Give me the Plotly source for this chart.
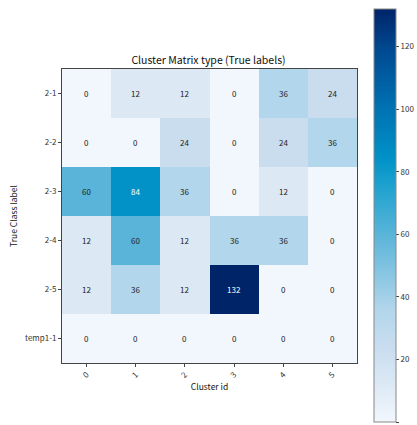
import plotly.graph_objects as go

clusters = ["0", "1", "2", "3", "4", "5"]
classes = ["2-1", "2-2", "2-3", "2-4", "2-5", "temp1-1"]
counts = [
    [0, 12, 12, 0, 36, 24],
    [0, 0, 24, 0, 24, 36],
    [60, 84, 36, 0, 12, 0],
    [12, 60, 12, 36, 36, 0],
    [12, 36, 12, 132, 0, 0],
    [0, 0, 0, 0, 0, 0],
]

FONT = "Noto Sans CJK JP, DejaVu Sans, sans-serif"
zmax = max(max(r) for r in counts)

colorscale = [
    [0.0, "#f2f7fd"],
    [0.09, "#dce9f5"],
    [0.18, "#c9ddef"],
    [0.27, "#b3d6eb"],
    [0.45, "#5cb5d9"],
    [0.57, "#1ea2cf"],
    [0.64, "#0091c7"],
    [0.76, "#0072b2"],
    [0.9, "#004a92"],
    [1.0, "#002468"],
]

L, T, PW, PH = 62, 69, 295, 294
W, H = 417, 425

fig = go.Figure(go.Heatmap(
    z=counts, x=clusters, y=classes,
    colorscale=colorscale, zmin=0, zmax=zmax,
    xgap=0, ygap=0,
    colorbar=dict(
        x=(374 - L) / PW, xanchor="left",
        y=(T + PH - 422) / PH, yanchor="bottom",
        lenmode="pixels", len=413, thickness=22,
        outlinecolor="#888888", outlinewidth=1,
        ticks="outside", ticklen=3, tickcolor="#444",
        tickvals=[0, 20, 40, 60, 80, 100, 120],
        tickfont=dict(family=FONT, size=8, color="#333"),
        xpad=0, ypad=0,
    ),
    hoverinfo="skip",
))

thresh = zmax / 2
annotations = []
for i, row in enumerate(counts):
    for j, v in enumerate(row):
        annotations.append(dict(
            x=clusters[j], y=classes[i], text=str(v), showarrow=False,
            font=dict(family=FONT, size=8, color="white" if v > thresh else "#222"),
        ))

fig.update_layout(
    width=W, height=H,
    margin=dict(l=L, r=W - L - PW, t=T, b=H - T - PH, autoexpand=False),
    paper_bgcolor="white", plot_bgcolor="white",
    annotations=annotations,
    title=dict(text="Cluster Matrix type (True labels)", x=0.5, xanchor="center",
               y=1 - 60/H, yanchor="middle",
               font=dict(family=FONT, size=10.5, color="#111")),
)
fig.update_xaxes(
    title=dict(text="Cluster id", font=dict(family=FONT, size=8.5, color="#111"), standoff=4),
    tickangle=-45, ticks="outside", ticklen=3, tickcolor="#444",
    tickfont=dict(family=FONT, size=8, color="#333"), automargin=False,
    showline=True, linecolor="#444", linewidth=1, mirror=True, showgrid=False,
)
fig.update_yaxes(
    title=dict(text="True Class label", font=dict(family=FONT, size=8.5, color="#111"), standoff=6),
    autorange="reversed", ticks="outside", ticklen=3, tickcolor="#444",
    tickfont=dict(family=FONT, size=8, color="#333"), automargin=False,
    showline=True, linecolor="#444", linewidth=1, mirror=True, showgrid=False,
)

fig.write_html(
    "out.html",
    config={"displayModeBar": False},
    post_script=(
        "document.documentElement.style.overflow='hidden';"
        "document.body.style.margin='0px';"
        "document.body.style.overflow='hidden';"
    ),
)
